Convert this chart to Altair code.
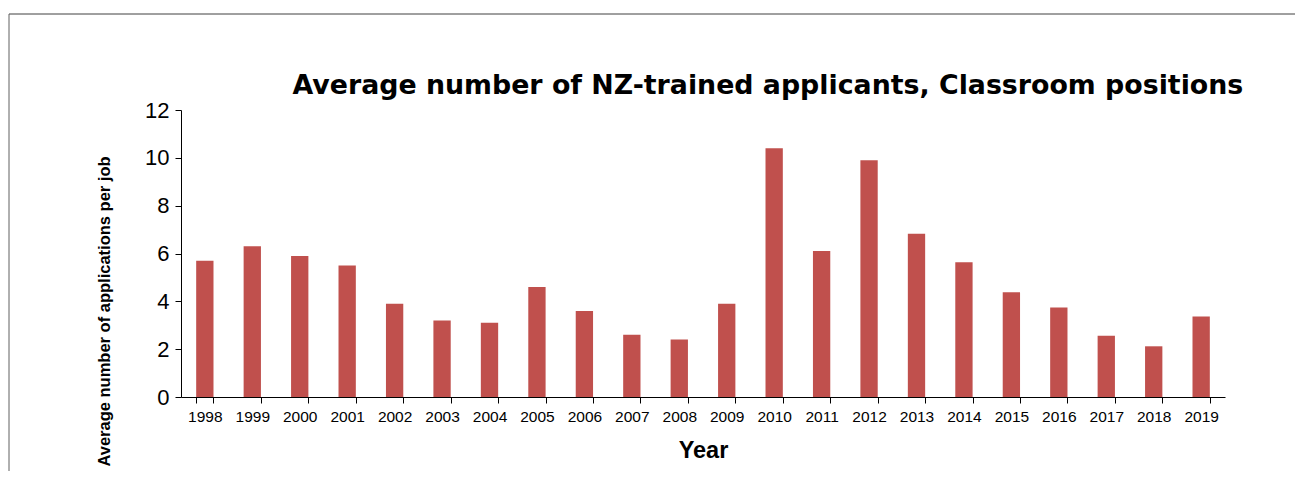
import altair as alt
import pandas as pd

years = [str(y) for y in range(1998, 2020)]
values = [5.7, 6.3, 5.9, 5.5, 3.9, 3.2, 3.1, 4.6, 3.6, 2.6, 2.4, 3.9,
          10.4, 6.1, 9.9, 6.83, 5.63, 4.38, 3.74, 2.56, 2.12, 3.37]

df = pd.DataFrame({"Year": years, "Value": values})
FONT = "Liberation Sans"

bars = alt.Chart(df).mark_bar(color="#C0504D").encode(
    x=alt.X("Year:N", sort=None,
            scale=alt.Scale(paddingInner=0.635, paddingOuter=0.32),
            axis=alt.Axis(title="Year", labelAngle=0, tickBand="extent",
                          labelFont=FONT, labelFontSize=15.5, labelColor="black",
                          labelPadding=6, tickSize=6, tickColor="black",
                          domainColor="black", titleFont=FONT, titleFontSize=23.5,
                          titleFontWeight="bold", titleColor="black", titlePadding=14)),
    y=alt.Y("Value:Q",
            scale=alt.Scale(domain=[0, 12]),
            axis=alt.Axis(title="Average number of applications per job",
                          values=[0, 2, 4, 6, 8, 10, 12], grid=False,
                          labelFont=FONT, labelFontSize=22, labelColor="black",
                          labelPadding=6, tickSize=6, tickColor="black",
                          domainColor="black", titleFont=FONT, titleFontSize=16.5,
                          titleFontWeight="bold", titleColor="black",
                          titleX=-77, titleY=201, titleAlign="center",
                          titleBaseline="middle", titleAngle=-90)),
)

frame_src = pd.DataFrame({"a": [0]})
top_line = alt.Chart(frame_src).mark_rule(color="#404040", strokeWidth=1).encode(
    x=alt.value(-172), x2=alt.value(1150), y=alt.value(-96))
left_line = alt.Chart(frame_src).mark_rule(color="#606060", strokeWidth=1).encode(
    x=alt.value(-172), y=alt.value(-96), y2=alt.value(400))

chart = alt.layer(top_line, left_line, bars).properties(
    width=1044, height=287,
    autosize=alt.AutoSizeParams(type="none"),
    padding={"left": 173, "top": 102, "right": 70, "bottom": 74},
    title=alt.TitleParams("Average number of NZ-trained applicants, Classroom positions",
                          font="DejaVu Sans", fontSize=26.8, fontWeight="bold", color="black",
                          anchor="start", dx=284, dy=91, offset=5),
).configure_view(stroke=None)

chart.save("out.html", embed_options={"renderer": "svg", "actions": False})
